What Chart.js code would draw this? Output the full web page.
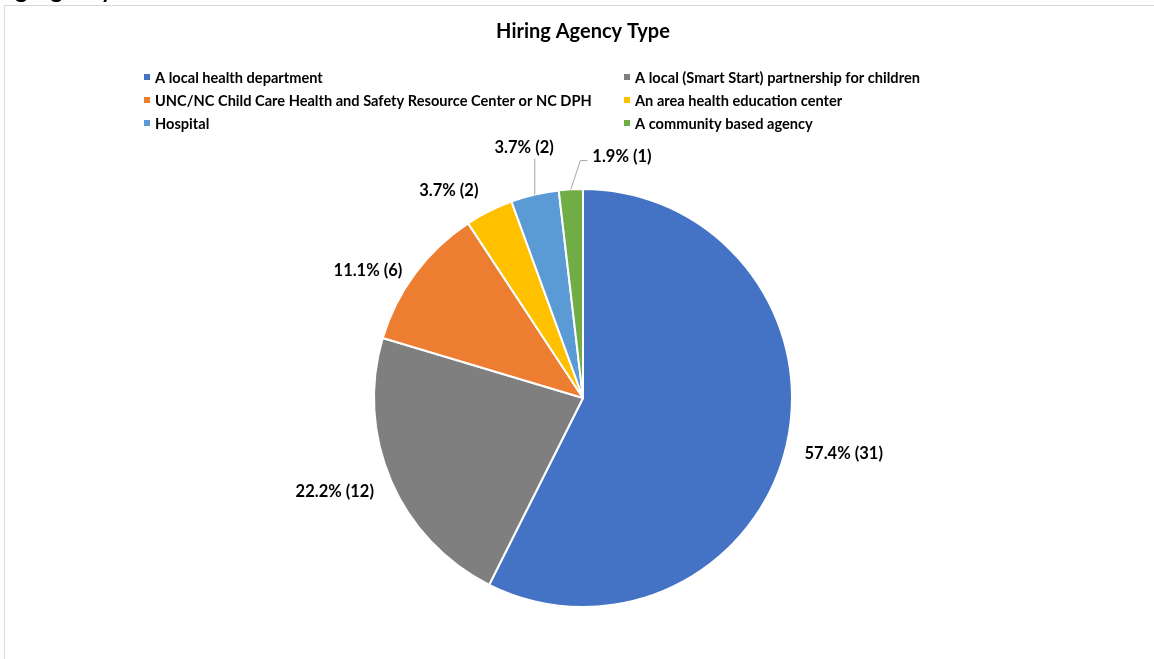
<!DOCTYPE html>
<html>
<head>
<meta charset="utf-8">
<script src="https://cdn.jsdelivr.net/npm/chart.js@4.4.0/dist/chart.umd.min.js"></script>
<style>
  html, body { margin: 0; padding: 0; background: #fff; }
  #wrap { width: 1154px; height: 659px; position: relative; }
</style>
</head>
<body>
<div id="wrap"><canvas id="pie" width="1154" height="659"></canvas></div>
<script>
const categories = [
  'A local health department',
  'A local (Smart Start) partnership for children',
  'UNC/NC Child Care Health and Safety Resource Center or NC DPH',
  'An area health education center',
  'Hospital',
  'A community based agency'
];
const counts = [31, 12, 6, 2, 2, 1];
const percents = ['57.4%', '22.2%', '11.1%', '3.7%', '3.7%', '1.9%'];
const colors = ['#4472C4', '#7F7F7F', '#ED7D31', '#FFC000', '#5B9BD5', '#70AD47'];

// legend is laid out in two columns, row by row
const legendOrder = [0, 1, 2, 3, 4, 5];

// label placement relative to each slice (distance as factor of radius, angle shift in degrees)
const labelDist = [1.276, 1.27, 1.195, 1.18, 1.23, 1.17];
const labelShift = [-1.2, 2.6, -6.1, -6.3, 0.1, 12.5];
const leader = [null, null, null, null, 'up', 'elbow'];

const FONT = 'Lato, "Open Sans", "Liberation Sans", sans-serif';

const decorPlugin = {
  id: 'decor',
  beforeDraw(chart) {
    const ctx = chart.ctx;
    ctx.save();
    // frame
    ctx.strokeStyle = '#d9d9d9';
    ctx.lineWidth = 1;
    ctx.strokeRect(4.5, 5.5, 1300, 700);

    // clipped page heading above the frame
    ctx.fillStyle = '#000';
    ctx.font = 'bold 24px ' + FONT;
    ctx.textBaseline = 'alphabetic';
    ctx.textAlign = 'left';
    const pre = ctx.measureText('Hirin').width;
    ctx.fillText('Hiring Agency', 15 - pre, -2);

    // title
    ctx.font = 'bold 20px ' + FONT;
    ctx.textAlign = 'center';
    ctx.textBaseline = 'middle';
    ctx.fillText('Hiring Agency Type', 583, 32);

    // legend
    ctx.font = 'bold 14.6px ' + FONT;
    ctx.textAlign = 'left';
    const colX = [144, 624];
    legendOrder.forEach((idx, k) => {
      const col = k % 2, row = Math.floor(k / 2);
      const x = colX[col], y = 77 + row * 23;
      ctx.fillStyle = colors[idx];
      ctx.fillRect(x, y - 3, 6, 6);
      ctx.fillStyle = '#000';
      ctx.fillText(categories[idx], x + 11, y + 1);
    });
    ctx.restore();
  },
  afterDatasetsDraw(chart) {
    const ctx = chart.ctx;
    const meta = chart.getDatasetMeta(0);
    ctx.save();
    ctx.font = 'bold 16.5px ' + FONT;
    ctx.textAlign = 'center';
    ctx.textBaseline = 'middle';
    meta.data.forEach((arc, i) => {
      const mid = (arc.startAngle + arc.endAngle) / 2;
      const r = arc.outerRadius;
      const a = mid + labelShift[i] * Math.PI / 180;
      const lx = arc.x + Math.cos(a) * r * labelDist[i];
      const ly = arc.y + Math.sin(a) * r * labelDist[i];
      const text = percents[i] + ' (' + counts[i] + ')';
      const w = ctx.measureText(text).width;
      if (leader[i]) {
        const px = arc.x + Math.cos(mid) * r;
        const py = arc.y + Math.sin(mid) * r;
        ctx.strokeStyle = '#a6a6a6';
        ctx.lineWidth = 1;
        ctx.beginPath();
        ctx.moveTo(px, py);
        if (leader[i] === 'up') {
          ctx.lineTo(px, ly + 11);
        } else {
          const left = lx - w / 2;
          ctx.lineTo(left - 12, ly + 4);
          ctx.lineTo(left - 5, ly + 4);
        }
        ctx.stroke();
      }
      ctx.fillStyle = '#000';
      ctx.fillText(text, lx, ly);
    });
    ctx.restore();
  }
};

new Chart(document.getElementById('pie'), {
  type: 'pie',
  data: {
    labels: categories,
    datasets: [{
      data: counts,
      backgroundColor: colors,
      borderColor: '#ffffff',
      borderWidth: 2
    }]
  },
  options: {
    responsive: false,
    animation: false,
    layout: { padding: { top: 188, bottom: 51, left: 373, right: 361 } },
    plugins: {
      legend: { display: false },
      tooltip: { enabled: false },
      title: { display: false }
    }
  },
  plugins: [decorPlugin]
});
</script>
</body>
</html>
